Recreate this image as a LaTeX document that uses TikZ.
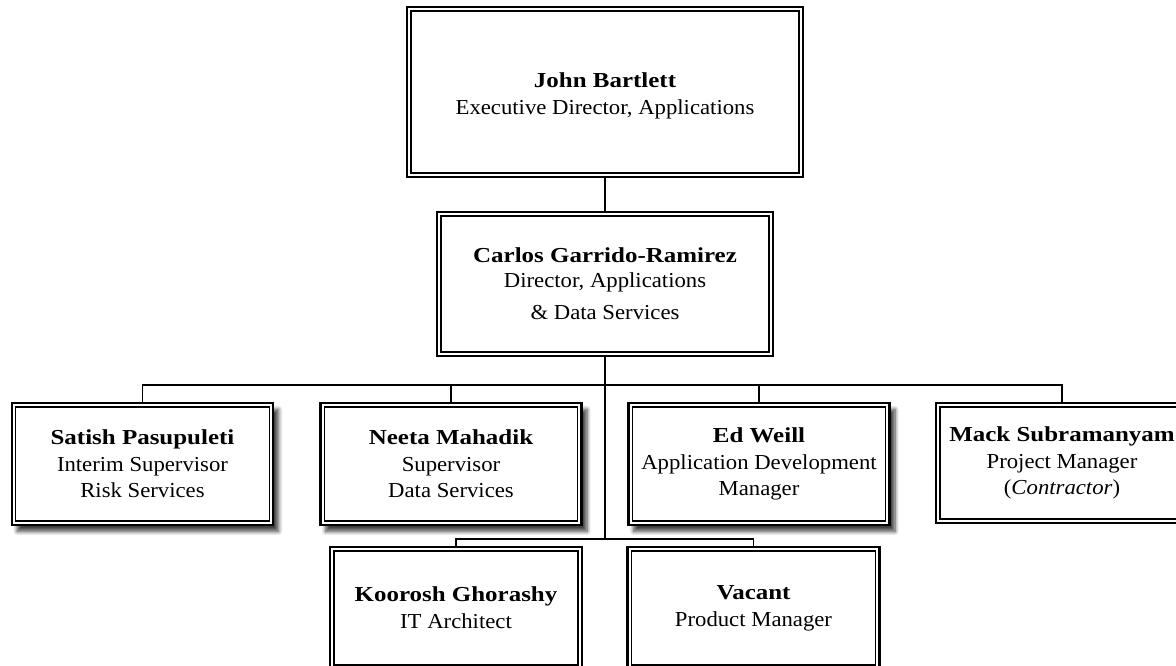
\documentclass[tikz,border=0pt]{standalone}
\usepackage{fontspec}
\setmainfont{Liberation Serif}[UprightFeatures={FakeStretch=1.065}, BoldFeatures={FakeStretch=1.17}, ItalicFeatures={FakeStretch=1.065}]
\usetikzlibrary{shadows.blur}
\begin{document}
\begin{tikzpicture}[x=0.75pt,y=-0.75pt,
  orgbox/.style={draw, line width=1.8pt, outer sep=0pt, fill=white, align=center, inner sep=0pt,
    font=\fontsize{16}{20}\selectfont},
  smallbox/.style={orgbox, minimum width=196pt, minimum height=91.5pt},
  shadowed/.style={blur shadow={shadow xshift=4pt, shadow yshift=-4.8pt, shadow blur steps=7, shadow blur radius=3pt, shadow opacity=75}},
  link/.style={draw, line width=1.1pt}]
\useasboundingbox (0,0) rectangle (1176,665);
\clip (0,0) rectangle (1176,665);

\node[orgbox, minimum width=297pt, minimum height=127.5pt, text height=37pt, text depth=4pt] (john) at (605,92)
  {\textbf{John Bartlett}\\Executive Director, Applications};
\node[orgbox, minimum width=252pt, minimum height=108pt] (carlos) at (605,284)
  {\textbf{Carlos Garrido-Ramirez}\\[-1pt]Director, Applications\\[4pt]\& Data Services};

\node[smallbox, shadowed] (satish) at (142.5,464)
  {\textbf{Satish Pasupuleti}\\Interim Supervisor\\Risk Services};
\node[smallbox, shadowed] (neeta) at (451,464)
  {\textbf{Neeta Mahadik}\\Supervisor\\Data Services};
\node[smallbox, shadowed] (ed) at (759,464)
  {\textbf{Ed Weill}\\Application Development\\Manager};
\node[orgbox, minimum width=189pt, minimum height=90pt] (mack) at (1062,463)
  {\textbf{Mack Subramanyam}\\Project Manager\\(\textit{Contractor})};

\node[orgbox, minimum width=189pt, minimum height=91.5pt] (koorosh) at (456,608)
  {\textbf{Koorosh Ghorashy}\\IT Architect};
\node[orgbox, minimum width=189pt, minimum height=91.5pt] (vacant) at (753.5,608)
  {\textbf{Vacant}\\Product Manager};

\foreach \n in {john,carlos,satish,neeta,ed,mack,koorosh,vacant}
  \draw[line width=0.8pt] ([shift={(3pt,3pt)}]\n.south west) rectangle ([shift={(-3pt,-3pt)}]\n.north east);

\coordinate (bus) at (605,385);
\coordinate (bus2) at (605,539);
\path[link] (john.south) -- (carlos.north);
\path[link] (carlos.south) -- (bus2);
\path[link] (satish.north) |- (bus) -| (mack.north);
\path[link] (bus) -| (neeta.north);
\path[link] (bus) -| (ed.north);
\path[link] (koorosh.north) |- (bus2) -| (vacant.north);
\end{tikzpicture}
\end{document}
